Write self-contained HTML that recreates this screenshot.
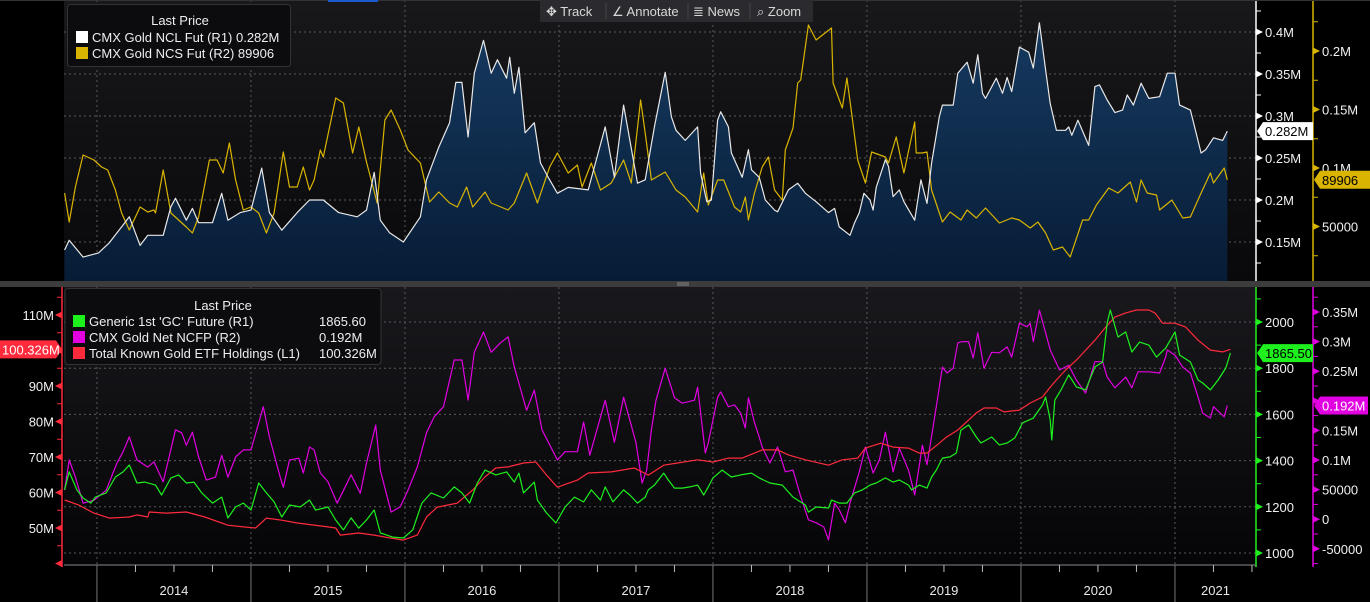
<!DOCTYPE html>
<html><head><meta charset="utf-8"><style>
html,body{margin:0;padding:0;background:#000;}
body{width:1370px;height:602px;overflow:hidden;position:relative;font-family:"Liberation Sans",sans-serif;}
svg{position:absolute;left:0;top:0;}
text{font-family:"Liberation Sans",sans-serif;}
</style></head><body>
<svg id="chart" width="1370" height="602" viewBox="0 0 1370 602" xmlns="http://www.w3.org/2000/svg">
<defs>
<linearGradient id="topBg" x1="0" y1="0" x2="0" y2="1"><stop offset="0" stop-color="#18181b"/><stop offset="1" stop-color="#09090b"/></linearGradient>
<linearGradient id="botBg" x1="0" y1="0" x2="0" y2="1"><stop offset="0" stop-color="#19191d"/><stop offset="1" stop-color="#050507"/></linearGradient>
<linearGradient id="areaFill" x1="0" y1="0" x2="0" y2="1"><stop offset="0" stop-color="#163a60"/><stop offset="1" stop-color="#071c36"/></linearGradient>
</defs>
<rect x="64" y="0" width="1192" height="281" fill="url(#topBg)"/>
<rect x="64" y="287" width="1192" height="278" fill="url(#botBg)"/>
<g id="grid"></g>
<g id="series"></g>
<g id="axes"></g>
<g id="overlay"></g>
</svg>
<script>
// ---- Top panel data ----
const nclDates=[2013.79,2013.82,2013.91,2014.01,2014.08,2014.16,2014.21,2014.28,2014.33,2014.43,2014.48,2014.51,2014.58,2014.62,2014.66,2014.75,2014.81,2014.85,2014.93,2015.00,2015.07,2015.12,2015.20,2015.30,2015.38,2015.47,2015.57,2015.69,2015.75,2015.80,2015.84,2015.90,2015.99,2016.10,2016.14,2016.22,2016.29,2016.33,2016.37,2016.41,2016.45,2016.51,2016.56,2016.60,2016.66,2016.68,2016.71,2016.74,2016.78,2016.84,2016.88,2016.93,2016.99,2017.06,2017.19,2017.30,2017.36,2017.42,2017.51,2017.56,2017.62,2017.69,2017.73,2017.76,2017.82,2017.90,2017.92,2017.96,2017.99,2018.03,2018.05,2018.10,2018.12,2018.19,2018.23,2018.25,2018.30,2018.34,2018.40,2018.42,2018.49,2018.55,2018.60,2018.67,2018.75,2018.79,2018.82,2018.89,2018.92,2018.95,2018.98,2019.02,2019.04,2019.06,2019.12,2019.14,2019.17,2019.21,2019.24,2019.31,2019.35,2019.39,2019.42,2019.47,2019.49,2019.56,2019.59,2019.65,2019.69,2019.72,2019.75,2019.77,2019.84,2019.88,2019.91,2019.94,2019.99,2020.05,2020.08,2020.12,2020.16,2020.19,2020.23,2020.29,2020.31,2020.33,2020.37,2020.44,2020.48,2020.51,2020.56,2020.61,2020.66,2020.69,2020.73,2020.78,2020.83,2020.90,2020.95,2021.00,2021.03,2021.10,2021.17,2021.20,2021.25,2021.31,2021.34];
const nclValues=[0.1405,0.152,0.132,0.137,0.149,0.168,0.180,0.146,0.158,0.158,0.192,0.202,0.176,0.190,0.173,0.173,0.208,0.176,0.185,0.188,0.238,0.185,0.164,0.185,0.200,0.200,0.185,0.180,0.188,0.233,0.176,0.161,0.150,0.180,0.224,0.263,0.292,0.340,0.340,0.275,0.351,0.390,0.351,0.367,0.345,0.370,0.327,0.358,0.280,0.292,0.244,0.227,0.208,0.215,0.212,0.287,0.227,0.313,0.220,0.224,0.287,0.352,0.299,0.283,0.271,0.287,0.232,0.198,0.200,0.295,0.305,0.287,0.256,0.227,0.260,0.236,0.227,0.200,0.188,0.186,0.212,0.220,0.208,0.198,0.185,0.190,0.168,0.158,0.173,0.185,0.208,0.200,0.188,0.215,0.248,0.240,0.204,0.212,0.198,0.176,0.224,0.196,0.244,0.299,0.313,0.313,0.351,0.364,0.339,0.373,0.327,0.321,0.345,0.327,0.346,0.329,0.382,0.376,0.357,0.411,0.355,0.315,0.283,0.283,0.287,0.277,0.295,0.265,0.335,0.337,0.319,0.304,0.307,0.325,0.313,0.339,0.321,0.323,0.351,0.351,0.313,0.307,0.256,0.260,0.274,0.271,0.282];
const ncsDates=[2013.79,2013.82,2013.86,2013.91,2013.98,2014.03,2014.07,2014.12,2014.16,2014.21,2014.28,2014.33,2014.37,2014.38,2014.43,2014.48,2014.53,2014.58,2014.62,2014.66,2014.73,2014.78,2014.82,2014.86,2014.90,2014.95,2015.00,2015.05,2015.10,2015.15,2015.21,2015.25,2015.30,2015.34,2015.38,2015.41,2015.45,2015.47,2015.55,2015.60,2015.66,2015.70,2015.75,2015.82,2015.87,2015.91,2015.97,2016.02,2016.10,2016.16,2016.22,2016.29,2016.34,2016.40,2016.44,2016.52,2016.56,2016.67,2016.71,2016.79,2016.86,2016.94,2016.99,2017.06,2017.12,2017.15,2017.21,2017.27,2017.34,2017.42,2017.47,2017.53,2017.56,2017.60,2017.69,2017.76,2017.82,2017.90,2017.94,2017.97,2018.03,2018.07,2018.14,2018.18,2018.21,2018.23,2018.27,2018.32,2018.36,2018.40,2018.45,2018.47,2018.52,2018.55,2018.57,2018.62,2018.67,2018.77,2018.78,2018.84,2018.87,2018.90,2018.94,2018.99,2019.03,2019.12,2019.14,2019.19,2019.24,2019.31,2019.32,2019.36,2019.39,2019.42,2019.49,2019.54,2019.61,2019.65,2019.71,2019.77,2019.86,2019.94,2019.99,2020.06,2020.11,2020.16,2020.21,2020.27,2020.32,2020.40,2020.44,2020.49,2020.57,2020.63,2020.71,2020.75,2020.78,2020.82,2020.88,2020.90,2020.98,2021.05,2021.10,2021.17,2021.23,2021.25,2021.32,2021.34];
const ncsValues=[78630,53850,83760,111110,106840,100850,98290,81200,61540,47010,66670,62390,64100,61540,98290,61540,55560,49570,44440,58120,106840,106840,95730,121370,89740,64100,66670,61540,44440,61540,113680,83760,83760,100850,81200,89740,115380,109400,159830,155560,112820,135040,105130,70090,141030,149570,132480,115380,104270,70940,79490,70090,66670,83760,66670,79490,70090,64100,70090,95730,70090,100850,112820,95730,102560,83760,104270,81200,87180,106840,87180,158120,129920,89740,96580,81200,75210,62390,95730,68380,89740,89740,66670,62390,75210,55560,78630,100850,109400,81200,72650,115380,134190,172650,175210,222220,209400,219660,172650,151280,176920,147010,106840,87180,113680,109400,104270,126500,95730,139320,112820,112820,113680,81200,53850,62390,55560,64100,57270,65810,52990,57270,55560,48720,53850,44440,29910,32480,23930,55560,55560,68380,82910,78630,88030,70940,89740,78630,76920,64100,72650,57270,58120,78630,95730,87180,100000,89906];
// ---- Bottom panel data ----
const gcDates=[2013.79,2013.82,2013.87,2013.91,2013.96,2013.99,2014.06,2014.12,2014.17,2014.21,2014.26,2014.31,2014.38,2014.42,2014.48,2014.53,2014.58,2014.63,2014.68,2014.75,2014.81,2014.85,2014.90,2014.95,2015.00,2015.05,2015.10,2015.15,2015.20,2015.25,2015.32,2015.38,2015.42,2015.50,2015.55,2015.60,2015.65,2015.70,2015.75,2015.80,2015.84,2015.92,2015.99,2016.05,2016.11,2016.17,2016.25,2016.32,2016.37,2016.42,2016.47,2016.52,2016.59,2016.66,2016.71,2016.74,2016.77,2016.84,2016.86,2016.92,2016.98,2017.04,2017.10,2017.16,2017.21,2017.27,2017.30,2017.35,2017.42,2017.46,2017.51,2017.56,2017.58,2017.62,2017.68,2017.71,2017.75,2017.80,2017.85,2017.90,2017.94,2017.97,2018.00,2018.06,2018.12,2018.18,2018.25,2018.30,2018.37,2018.45,2018.52,2018.60,2018.62,2018.67,2018.75,2018.77,2018.82,2018.87,2018.92,2018.97,2019.02,2019.06,2019.12,2019.17,2019.21,2019.27,2019.29,2019.34,2019.39,2019.42,2019.45,2019.49,2019.54,2019.58,2019.61,2019.66,2019.71,2019.74,2019.81,2019.86,2019.91,2019.96,2020.01,2020.08,2020.14,2020.16,2020.19,2020.20,2020.22,2020.26,2020.31,2020.36,2020.42,2020.48,2020.53,2020.56,2020.58,2020.63,2020.68,2020.72,2020.77,2020.83,2020.88,2020.94,2021.00,2021.03,2021.10,2021.15,2021.18,2021.23,2021.28,2021.33,2021.36];
const gcValues=[1273,1351,1273,1238,1216,1242,1260,1329,1351,1381,1303,1307,1294,1251,1325,1338,1303,1307,1260,1216,1242,1152,1199,1216,1186,1303,1260,1221,1156,1208,1199,1229,1186,1199,1143,1100,1152,1108,1143,1186,1087,1069,1065,1100,1216,1260,1238,1286,1260,1216,1303,1359,1338,1351,1307,1346,1260,1307,1229,1173,1130,1199,1242,1221,1273,1229,1286,1221,1273,1251,1216,1242,1273,1294,1346,1316,1281,1281,1286,1294,1251,1286,1325,1359,1329,1338,1346,1325,1303,1294,1242,1208,1177,1199,1195,1229,1216,1216,1260,1273,1294,1303,1325,1307,1316,1294,1273,1294,1281,1329,1359,1411,1416,1433,1532,1554,1502,1476,1502,1468,1476,1498,1563,1584,1641,1675,1576,1489,1662,1706,1771,1719,1706,1805,1827,1996,2052,1935,1957,1870,1913,1900,1848,1887,1957,1857,1827,1749,1736,1706,1749,1801,1865.6];
const ncfpDates=[2013.79,2013.82,2013.86,2013.91,2013.98,2014.06,2014.13,2014.17,2014.21,2014.26,2014.33,2014.37,2014.43,2014.51,2014.55,2014.58,2014.62,2014.66,2014.71,2014.77,2014.81,2014.85,2014.90,2014.95,2015.00,2015.08,2015.12,2015.19,2015.21,2015.25,2015.31,2015.34,2015.38,2015.41,2015.45,2015.50,2015.56,2015.65,2015.71,2015.75,2015.81,2015.84,2015.91,2015.97,2016.02,2016.08,2016.14,2016.19,2016.25,2016.32,2016.37,2016.41,2016.45,2016.51,2016.56,2016.62,2016.67,2016.71,2016.79,2016.84,2016.89,2016.99,2017.04,2017.12,2017.16,2017.20,2017.30,2017.36,2017.42,2017.50,2017.54,2017.57,2017.60,2017.63,2017.69,2017.75,2017.80,2017.88,2017.90,2017.95,2017.97,2018.03,2018.05,2018.10,2018.14,2018.18,2018.21,2018.23,2018.27,2018.30,2018.32,2018.37,2018.42,2018.47,2018.52,2018.57,2018.62,2018.67,2018.72,2018.75,2018.79,2018.82,2018.86,2018.89,2018.95,2018.99,2019.04,2019.08,2019.12,2019.17,2019.21,2019.27,2019.31,2019.36,2019.39,2019.44,2019.49,2019.52,2019.56,2019.59,2019.62,2019.66,2019.69,2019.72,2019.76,2019.81,2019.86,2019.91,2019.94,2019.99,2020.04,2020.06,2020.08,2020.12,2020.16,2020.19,2020.25,2020.31,2020.36,2020.42,2020.48,2020.53,2020.56,2020.61,2020.68,2020.72,2020.76,2020.83,2020.90,2020.94,2020.95,2021.00,2021.05,2021.10,2021.15,2021.18,2021.23,2021.25,2021.32,2021.34];
const ncfpValues=[0.049,0.100,0.071,0.027,0.032,0.049,0.095,0.114,0.139,0.100,0.088,0.097,0.063,0.151,0.146,0.125,0.147,0.105,0.066,0.071,0.108,0.071,0.105,0.117,0.117,0.190,0.139,0.071,0.054,0.100,0.103,0.078,0.122,0.117,0.078,0.063,0.027,0.075,0.044,0.095,0.159,0.083,0.012,0.021,0.049,0.088,0.146,0.173,0.190,0.269,0.269,0.201,0.282,0.316,0.282,0.298,0.308,0.257,0.184,0.218,0.151,0.100,0.114,0.114,0.164,0.108,0.201,0.130,0.206,0.129,0.061,0.083,0.151,0.201,0.255,0.205,0.196,0.201,0.223,0.112,0.129,0.206,0.215,0.190,0.193,0.179,0.154,0.205,0.163,0.139,0.122,0.095,0.122,0.080,0.083,0.038,-0.001,-0.006,-0.013,-0.035,0.027,0.016,-0.006,0.027,0.080,0.122,0.078,0.100,0.147,0.080,0.120,0.083,0.041,0.125,0.092,0.173,0.257,0.247,0.255,0.298,0.300,0.300,0.272,0.315,0.255,0.282,0.281,0.291,0.274,0.331,0.325,0.331,0.300,0.353,0.315,0.286,0.252,0.260,0.235,0.213,0.266,0.266,0.240,0.222,0.240,0.222,0.249,0.249,0.247,0.274,0.286,0.277,0.257,0.247,0.206,0.179,0.171,0.190,0.173,0.192];
const etfDates=[2013.79,2013.88,2013.98,2014.08,2014.21,2014.26,2014.33,2014.34,2014.45,2014.58,2014.70,2014.85,2014.95,2015.03,2015.10,2015.20,2015.30,2015.50,2015.55,2015.58,2015.70,2015.80,2015.90,2015.99,2016.08,2016.14,2016.21,2016.34,2016.44,2016.52,2016.59,2016.67,2016.77,2016.85,2016.92,2016.99,2017.12,2017.19,2017.34,2017.49,2017.58,2017.68,2017.77,2017.90,2018.00,2018.10,2018.19,2018.27,2018.32,2018.42,2018.49,2018.60,2018.75,2018.84,2018.94,2018.99,2019.09,2019.17,2019.27,2019.34,2019.39,2019.47,2019.51,2019.59,2019.66,2019.71,2019.76,2019.84,2019.89,2019.99,2020.06,2020.14,2020.19,2020.23,2020.29,2020.36,2020.41,2020.48,2020.55,2020.61,2020.68,2020.75,2020.83,2020.87,2020.92,2021.00,2021.07,2021.15,2021.23,2021.31,2021.36];
const etfValues=[57.9,56.5,54.2,52.8,53.1,53.7,53.1,54.5,54.2,54.5,53.1,50.8,50.3,50.0,52.8,52.2,51.4,50.3,50.0,48.0,48.6,48.0,47.2,46.6,48.0,53.1,55.9,57.0,60.7,64.4,66.9,67.2,68.3,68.6,64.9,61.5,63.5,65.5,65.8,66.9,64.9,67.7,68.3,69.2,68.6,69.7,69.7,71.1,72.0,72.0,70.6,69.2,67.7,69.2,69.7,72.5,73.9,72.8,72.5,71.1,71.1,73.9,75.4,77.6,80.4,82.4,83.8,83.8,82.7,83.2,85.2,86.9,89.7,91.7,94.5,97.3,99.6,102.9,106.6,109.4,110.6,111.4,111.4,110.6,107.7,107.7,106.6,102.9,100.1,99.6,100.326];
// tick label arrays
const yearLabels=[2014,2015,2016,2017,2018,2019,2020,2021];
const nclTicks=[0.15,0.2,0.25,0.3,0.35,0.4];
const nclTickLabels=["0.15M","0.2M","0.25M","0.3M","0.35M","0.4M"];
const ncsTicks=[50000,100000,150000,200000];
const ncsTickLabels=["50000","0.1M","0.15M","0.2M"];
const gcTicks=[1000,1200,1400,1600,1800,2000];
const ncfpTicks=[-0.05,0,0.05,0.1,0.15,0.2,0.25,0.3,0.35];
const ncfpTickLabels=["-50000","0","50000","0.1M","0.15M","0.2M","0.25M","0.3M","0.35M"];
const etfTicks=[40,50,60,70,80,90,100,110];
const etfTickLabels=["","50M","60M","70M","80M","90M","100M","110M"];

// ---- scales ----
const X0=64,X1=1256;
const xS=d=>64+(d-2013.786)*154;
const yNcl=v=>32+(0.4-v)/0.05*42;
const yNcs=v=>51+(200000-v)/50000*58.5;
const yGc=v=>322+(2000-v)/200*46.2;
const yNcfp=v=>312+(0.35-v)/0.05*29.6;
const yEtf=v=>315+(110-v)/10*35.5;

const NS="http://www.w3.org/2000/svg";
function mk(parent,tag,attrs,txt){const e=document.createElementNS(NS,tag);for(const k in attrs)e.setAttribute(k,attrs[k]);if(txt!==undefined)e.textContent=txt;parent.appendChild(e);return e;}
const grid=document.getElementById('grid'),series=document.getElementById('series'),axes=document.getElementById('axes'),overlay=document.getElementById('overlay');

// grid
nclTicks.forEach(t=>{const l=mk(grid,'line',{x1:X0,x2:X1,y1:yNcl(t),y2:yNcl(t),stroke:'#5a5a5e','stroke-dasharray':'2,3'});

});
gcTicks.forEach(t=>{const l=mk(grid,'line',{x1:X0,x2:X1,y1:yGc(t),y2:yGc(t),stroke:'#5a5a5e','stroke-dasharray':'2,3'});

});
yearLabels.forEach(y=>{const x=xS(y);
const a=mk(grid,'line',{x1:x,x2:x,y1:0,y2:281,stroke:'#5a5a5e','stroke-dasharray':'2,3'});


const b=mk(grid,'line',{x1:x,x2:x,y1:287,y2:565,stroke:'#5a5a5e','stroke-dasharray':'2,3'});

});

function pts(ds,vs,ys){return ds.map((d,i)=>xS(d).toFixed(1)+','+ys(vs[i]).toFixed(1));}
// NCL area + line
const np=pts(nclDates,nclValues,yNcl);
const area=mk(series,'polygon',{points:xS(nclDates[0]).toFixed(1)+',281 '+np.join(' ')+' '+xS(nclDates[nclDates.length-1]).toFixed(1)+',281',fill:'url(#areaFill)'});


const ncs=mk(series,'polyline',{points:pts(ncsDates,ncsValues,yNcs).join(' '),fill:'none',stroke:'#d9b400','stroke-width':1.2,'stroke-linejoin':'round'});


const ncl=mk(series,'polyline',{points:np.join(' '),fill:'none',stroke:'#e8e8e8','stroke-width':1.2,'stroke-linejoin':'round'});


const ncfp=mk(series,'polyline',{points:pts(ncfpDates,ncfpValues,yNcfp).join(' '),fill:'none',stroke:'#e000e0','stroke-width':1.2,'stroke-linejoin':'round'});


const etf=mk(series,'polyline',{points:pts(etfDates,etfValues,yEtf).join(' '),fill:'none',stroke:'#ff2a3c','stroke-width':1.2,'stroke-linejoin':'round'});


const gc=mk(series,'polyline',{points:pts(gcDates,gcValues,yGc).join(' '),fill:'none',stroke:'#1ef01e','stroke-width':1.2,'stroke-linejoin':'round'});



// right axes
function rightAxis(x,y0,y1,color,ticks,labels,ys,step,name){
 const l=mk(axes,'line',{x1:x,x2:x,y1:y0,y2:y1,stroke:color,'stroke-width':1.5});
 
 
 const lo=ticks[0]-step/2,hi=ticks[ticks.length-1]+step;
 for(let v=lo;v<=hi+1e-9;v+=step/2){const y=ys(v);if(y<y0+2||y>y1-2)continue;
  if(Math.abs(((v-ticks[0])/step)-Math.round((v-ticks[0])/step))>1e-6){mk(axes,'line',{x1:x,x2:x+5,y1:y,y2:y,stroke:color});}}
 ticks.forEach((t,i)=>{const y=ys(t);
  mk(axes,'polygon',{points:`${x},${y-3.5} ${x+7},${y} ${x},${y+3.5}`,fill:color});
  const tx=mk(axes,'text',{x:x+9,y:y+5,fill:'#f0f0f0','font-size':13},labels[i]);
  
  });
}
rightAxis(1256,0,281,'#ffffff',nclTicks,nclTickLabels,yNcl,0.05,'ncl');
rightAxis(1313,0,281,'#d9b400',ncsTicks,ncsTickLabels,yNcs,50000,'ncs');
rightAxis(1256,287,567,'#1ef01e',gcTicks,gcTicks.map(String),yGc,200,'gc');
rightAxis(1313,287,567,'#e000e0',ncfpTicks,ncfpTickLabels,yNcfp,0.05,'ncfp');
// left axis
(function(){const x=62;
 const l=mk(axes,'line',{x1:x,x2:x,y1:287,y2:567,stroke:'#ff2a3c','stroke-width':1.5});
 
 
 for(let v=35;v<=115;v+=5){const y=yEtf(v);if(y<289||y>566)continue;if(v%10!==0)mk(axes,'line',{x1:x-5,x2:x,y1:y,y2:y,stroke:'#ff2a3c'});}
 etfTicks.forEach((t,i)=>{const y=yEtf(t);
  mk(axes,'polygon',{points:`${x},${y-3.5} ${x-7},${y} ${x},${y+3.5}`,fill:'#ff2a3c'});
  const tx=mk(axes,'text',{x:x-8,y:y+5,fill:'#f0f0f0','font-size':13,'text-anchor':'end'},etfTickLabels[i]);
  
  });
})();
// x axis
mk(axes,'line',{x1:64,x2:1256,y1:565,y2:565,stroke:'#888'});
for(let q=2013.75;q<=2021.5;q+=0.25){const x=xS(q);if(x<64||x>1256)continue;
 const isY=Math.abs(q-Math.round(q))<1e-6;
 mk(axes,'line',{x1:x,x2:x,y1:565,y2:isY?602:572,stroke:isY?'#777':'#bbb'});}
yearLabels.forEach(y=>{const cx=Math.min(xS(y+0.5),(xS(y)+1256)/2);
 const t=mk(axes,'text',{x:cx,y:595,fill:'#e8e8e8','font-size':13,'text-anchor':'middle'},String(y));
 
 });
// separator
const sep=mk(overlay,'rect',{x:0,y:281,width:1370,height:6,fill:'#3c3c3c'});


mk(overlay,'line',{x1:677,x2:689,y1:283,y2:283,stroke:'#888'});
mk(overlay,'line',{x1:677,x2:689,y1:285,y2:285,stroke:'#888'});
mk(overlay,'rect',{x:0,y:0,width:1370,height:1,fill:'#333'});
mk(overlay,'rect',{x:328,y:0,width:50,height:2,fill:'#1a5acc'});
// value badges
function badgeL(x,y,w,bg,fg,txt,name){const g=mk(overlay,'g',{});
 
 
 mk(g,'polygon',{points:`${x},${y} ${x+6},${y-9} ${x+w},${y-9} ${x+w},${y+9} ${x+6},${y+9}`,fill:bg});
 mk(g,'text',{x:x+8,y:y+5,fill:fg,'font-size':13},txt);}
badgeL(1257,yNcl(nclValues[nclValues.length-1]),56,'#ffffff','#000','0.282M','ncl-last-badge');
badgeL(1314,yNcs(ncsValues[ncsValues.length-1]),56,'#d9b400','#000','89906','ncs-last-badge');
badgeL(1257,yGc(1865.5),56,'#1ef01e','#000','1865.50','gc-last-badge');
badgeL(1314,yNcfp(ncfpValues[ncfpValues.length-1]),54,'#e000e0','#fff','0.192M','ncfp-last-badge');
(function(){const y=yEtf(etfValues[etfValues.length-1]);const g=mk(overlay,'g',{});
 
 
 mk(g,'polygon',{points:`0,${y-9} 56,${y-9} 62,${y} 56,${y+9} 0,${y+9}`,fill:'#ff2a3c'});
 mk(g,'text',{x:2,y:y+5,fill:'#fff','font-size':13},'100.326M');})();
// legends
(function(){const g=mk(overlay,'g',{});
 
 
 mk(g,'rect',{x:67.5,y:4.5,width:223,height:62,rx:3,fill:'#0c0c0f',stroke:'#333'});
 mk(g,'text',{x:180,y:25,fill:'#eee','font-size':13,'text-anchor':'middle'},'Last Price');
 mk(g,'rect',{x:76,y:31,width:12,height:12,fill:'#fff'});
 mk(g,'text',{x:92,y:42,fill:'#eee','font-size':13},"CMX Gold NCL Fut  (R1) 0.282M");
 mk(g,'rect',{x:76,y:47,width:12,height:12,fill:'#d9b400'});
 mk(g,'text',{x:92,y:58,fill:'#eee','font-size':13},"CMX Gold NCS Fut  (R2) 89906");
 const g2=mk(overlay,'g',{});
 
 
 mk(g2,'rect',{x:65,y:288.5,width:316,height:76,rx:3,fill:'#0c0c0f',stroke:'#333'});
 mk(g2,'text',{x:223,y:310,fill:'#eee','font-size':13,'text-anchor':'middle'},'Last Price');
 const rows=[['#1ef01e',"Generic 1st 'GC' Future  (R1)","1865.60"],['#e000e0',"CMX Gold Net NCFP  (R2)","0.192M"],['#ff2a3c',"Total Known Gold ETF Holdings  (L1)","100.326M"]];
 rows.forEach((r,i)=>{const y=315+i*16;mk(g2,'rect',{x:73,y:y,width:12,height:12,fill:r[0]});
  mk(g2,'text',{x:89,y:y+11,fill:'#eee','font-size':13},r[1]);
  mk(g2,'text',{x:319,y:y+11,fill:'#eee','font-size':13},r[2]);});
})();
// toolbar
(function(){const g=mk(overlay,'g',{});
 
 
 mk(g,'rect',{x:540,y:0,width:273,height:22,fill:'#2b2b2f'});
 const items=[['✥ Track',546,'track-button'],['∠ Annotate',612,'annotate-button'],['≣ News',693,'news-button'],['⌕ Zoom',757,'zoom-button']];
 items.forEach(it=>{const t=mk(g,'text',{x:it[1],y:16,fill:'#d8d8d8','font-size':13},it[0]);
  
  });
 [606,688,750].forEach(x=>mk(g,'line',{x1:x,x2:x,y1:3,y2:19,stroke:'#444'}));
})();
</script>
</body></html>
